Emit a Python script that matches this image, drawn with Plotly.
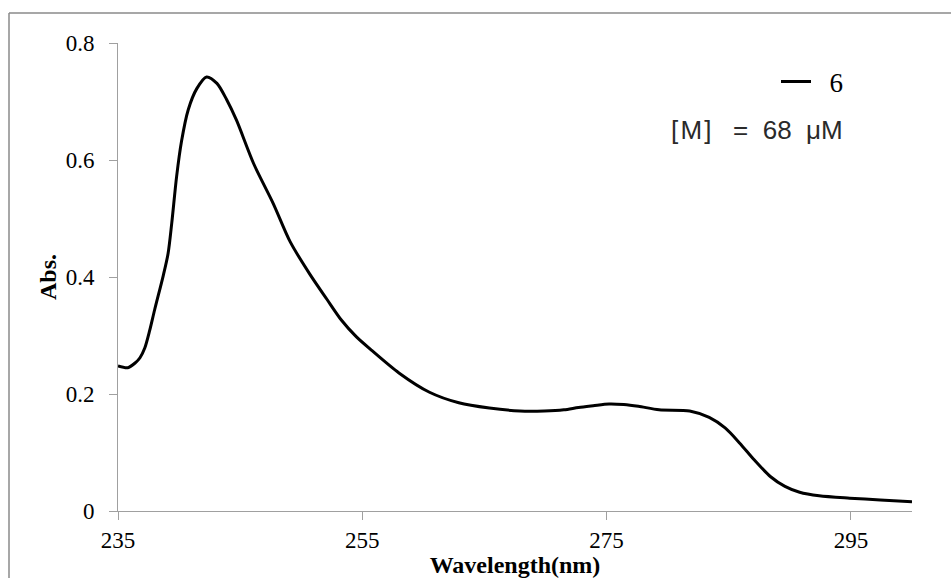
import plotly.graph_objects as go

# UV-Vis absorption spectrum of compound 6
wavelength = [235.0, 235.8, 236.4, 236.8, 237.2, 237.6, 238.0, 238.7, 239.1, 239.4,
              239.8, 240.2, 240.75, 241.45, 242.25, 243.1, 243.9, 244.7, 246.1, 247.7,
              249.1, 250.7, 252.1, 253.3, 254.5, 255.8, 258.0, 260.5, 262.9, 265.4,
              267.9, 269.9, 271.5, 272.7, 273.9, 275.2, 276.4, 277.6, 279.3, 281.8,
              283.4, 284.7, 285.9, 287.1, 288.4, 289.6, 290.8, 292.4, 294.9, 297.4,
              300.0]
absorbance = [0.248, 0.245, 0.253, 0.262, 0.279, 0.309, 0.344, 0.402, 0.440, 0.492,
              0.572, 0.632, 0.686, 0.722, 0.742, 0.731, 0.703, 0.668, 0.594, 0.526,
              0.460, 0.405, 0.362, 0.326, 0.298, 0.274, 0.236, 0.203, 0.185, 0.176,
              0.171, 0.171, 0.173, 0.177, 0.180, 0.183, 0.182, 0.179, 0.173, 0.171,
              0.160, 0.142, 0.116, 0.087, 0.059, 0.042, 0.032, 0.026, 0.022, 0.019,
              0.016]

x_ticks = [235, 255, 275, 295]
y_ticks = [0, 0.2, 0.4, 0.6, 0.8]
y_tick_text = ["0", "0.2", "0.4", "0.6", "0.8"]

serif = "Liberation Serif, Times New Roman, serif"

fig = go.Figure()
fig.add_trace(go.Scatter(
    x=wavelength, y=absorbance, mode="lines", name="&nbsp;&nbsp;6",
    line=dict(color="black", width=3, shape="spline", smoothing=0.8),
))

axis_common = dict(
    showgrid=False, zeroline=False, showline=True, linecolor="#a0a0a0", linewidth=1,
    ticks="outside", ticklen=8, tickcolor="#a0a0a0", automargin=False,
    tickfont=dict(family=serif, size=23, color="black"),
)

fig.update_layout(
    width=951, height=578,
    margin=dict(l=118, r=39, t=43, b=67),
    paper_bgcolor="white", plot_bgcolor="white",
    xaxis=dict(range=[235, 300], tickvals=x_ticks, ticktext=[str(v) for v in x_ticks],
               ticklabelstandoff=0,
               title=dict(text="<b>Wavelength(nm)</b>", font=dict(family=serif, size=24, color="black"),
                          standoff=2),
               **axis_common),
    yaxis=dict(range=[0, 0.8], tickvals=y_ticks, ticktext=y_tick_text,
               ticklabelstandoff=10,
               title=dict(text="<b>Abs.</b>", font=dict(family=serif, size=24, color="black"),
                          standoff=2),
               **axis_common),
    showlegend=True,
    legend=dict(x=(776 - 118) / 794, y=(511 - 82) / 468, xanchor="left", yanchor="middle",
                font=dict(family=serif, size=27, color="black"),
                bgcolor="rgba(0,0,0,0)", itemwidth=30),
    annotations=[dict(
        text="[&#8202;M&#8202;]&nbsp;&nbsp;&nbsp;=&nbsp;&nbsp;68&nbsp;&nbsp;μM", xref="paper", yref="paper",
        x=(845 - 118) / 794, y=(511 - 130) / 468,
        xanchor="right", yanchor="middle", showarrow=False,
        font=dict(family="Liberation Sans, Arial, sans-serif", size=26, color="#2a2a2a"),
    )],
    shapes=[
        dict(type="line", xref="paper", yref="paper",
             x0=(9 - 118) / 794, x1=(951 - 118) / 794,
             y0=(511 - 13) / 468, y1=(511 - 13) / 468,
             line=dict(color="#8a8a8a", width=1.5)),
        dict(type="line", xref="paper", yref="paper",
             x0=(9 - 118) / 794, x1=(9 - 118) / 794,
             y0=(511 - 13) / 468, y1=(511 - 578) / 468,
             line=dict(color="#8a8a8a", width=1.5)),
    ],
)

fig.write_html("out.html")
